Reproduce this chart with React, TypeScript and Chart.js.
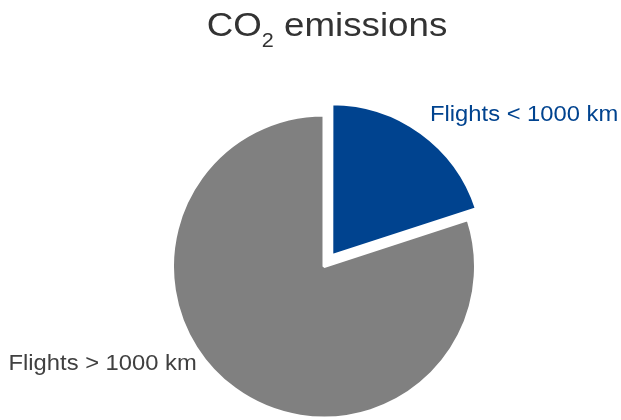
import { useEffect, useRef } from "react";
import { Chart, registerables } from "chart.js";

Chart.register(...registerables);

// Share of CO2 emissions by flight distance
const categories = ["Flights < 1000 km", "Flights > 1000 km"];
const shares = [20, 80];
const sliceColors = ["#00438F", "#808080"];
const labelColors = ["#00438F", "#404040"];

const FONT = "'Liberation Sans', Arial, Helvetica, sans-serif";
// Text is drawn slightly wide
const TEXT_STRETCH = 1.08;

// Slice labels, placed relative to the pie centre in units of its radius
const labelPlacement = [
  { align: "left" as CanvasTextAlign, dx: 0.7, dy: -0.96 },
  { align: "right" as CanvasTextAlign, dx: -0.84, dy: 0.68 },
];

function wideText(ctx: CanvasRenderingContext2D, text: string, x: number, y: number) {
  ctx.save();
  ctx.translate(x, y);
  ctx.scale(TEXT_STRETCH, 1);
  ctx.fillText(text, 0, 0);
  ctx.restore();
}

const titlePlugin = {
  id: "co2Title",
  afterDraw(chart: Chart) {
    const ctx = chart.ctx;
    const area = chart.chartArea;
    ctx.save();
    ctx.fillStyle = "#333333";
    ctx.textBaseline = "alphabetic";
    ctx.textAlign = "left";
    const big = `34px ${FONT}`;
    const small = `20px ${FONT}`;
    ctx.font = big;
    const wCO = ctx.measureText("CO").width * TEXT_STRETCH;
    const wRest = ctx.measureText(" emissions").width * TEXT_STRETCH;
    ctx.font = small;
    const wSub = ctx.measureText("2").width * TEXT_STRETCH;
    const total = wCO + wSub + wRest;
    const baseline = 36;
    let x = (area.left + area.right) / 2 + 3 - total / 2;
    ctx.font = big;
    wideText(ctx, "CO", x, baseline);
    x += wCO;
    ctx.font = small;
    wideText(ctx, "2", x, baseline + 10.5);
    x += wSub;
    ctx.font = big;
    wideText(ctx, " emissions", x, baseline);
    ctx.restore();
  },
};

const sliceLabelPlugin = {
  id: "sliceLabels",
  afterDatasetsDraw(chart: Chart) {
    const meta = chart.getDatasetMeta(0);
    const ctx = chart.ctx;
    ctx.save();
    ctx.font = `22px ${FONT}`;
    ctx.textBaseline = "alphabetic";
    meta.data.forEach((el: any, i: number) => {
      const { x, y, outerRadius } = el.getProps(["x", "y", "outerRadius"], true);
      const p = labelPlacement[i];
      ctx.fillStyle = labelColors[i];
      ctx.textAlign = p.align;
      wideText(ctx, categories[i], x + p.dx * outerRadius, y + p.dy * outerRadius);
    });
    ctx.restore();
  },
};

export default function App() {
  const canvasRef = useRef<HTMLCanvasElement | null>(null);

  useEffect(() => {
    const canvas = canvasRef.current;
    if (!canvas) return;
    const chart = new Chart(canvas, {
      type: "pie",
      data: {
        labels: categories,
        datasets: [
          {
            data: shares,
            backgroundColor: sliceColors,
            borderColor: "#ffffff",
            borderWidth: 3,
            offset: [53, 0],
          },
        ],
      },
      options: {
        responsive: false,
        animation: false,
        devicePixelRatio: 1,
        events: [],
        radius: 151.5,
        layout: { padding: { left: 27, right: 0, top: 113, bottom: 0 } },
        plugins: {
          legend: { display: false },
          title: { display: false },
          tooltip: { enabled: false },
        },
      },
      plugins: [titlePlugin, sliceLabelPlugin],
    });
    return () => chart.destroy();
  }, []);

  return (
    <div style={{ position: "absolute", left: 0, top: 0, width: 621, height: 420, background: "#ffffff" }}>
      <canvas ref={canvasRef} width={621} height={420} style={{ display: "block" }} />
    </div>
  );
}
